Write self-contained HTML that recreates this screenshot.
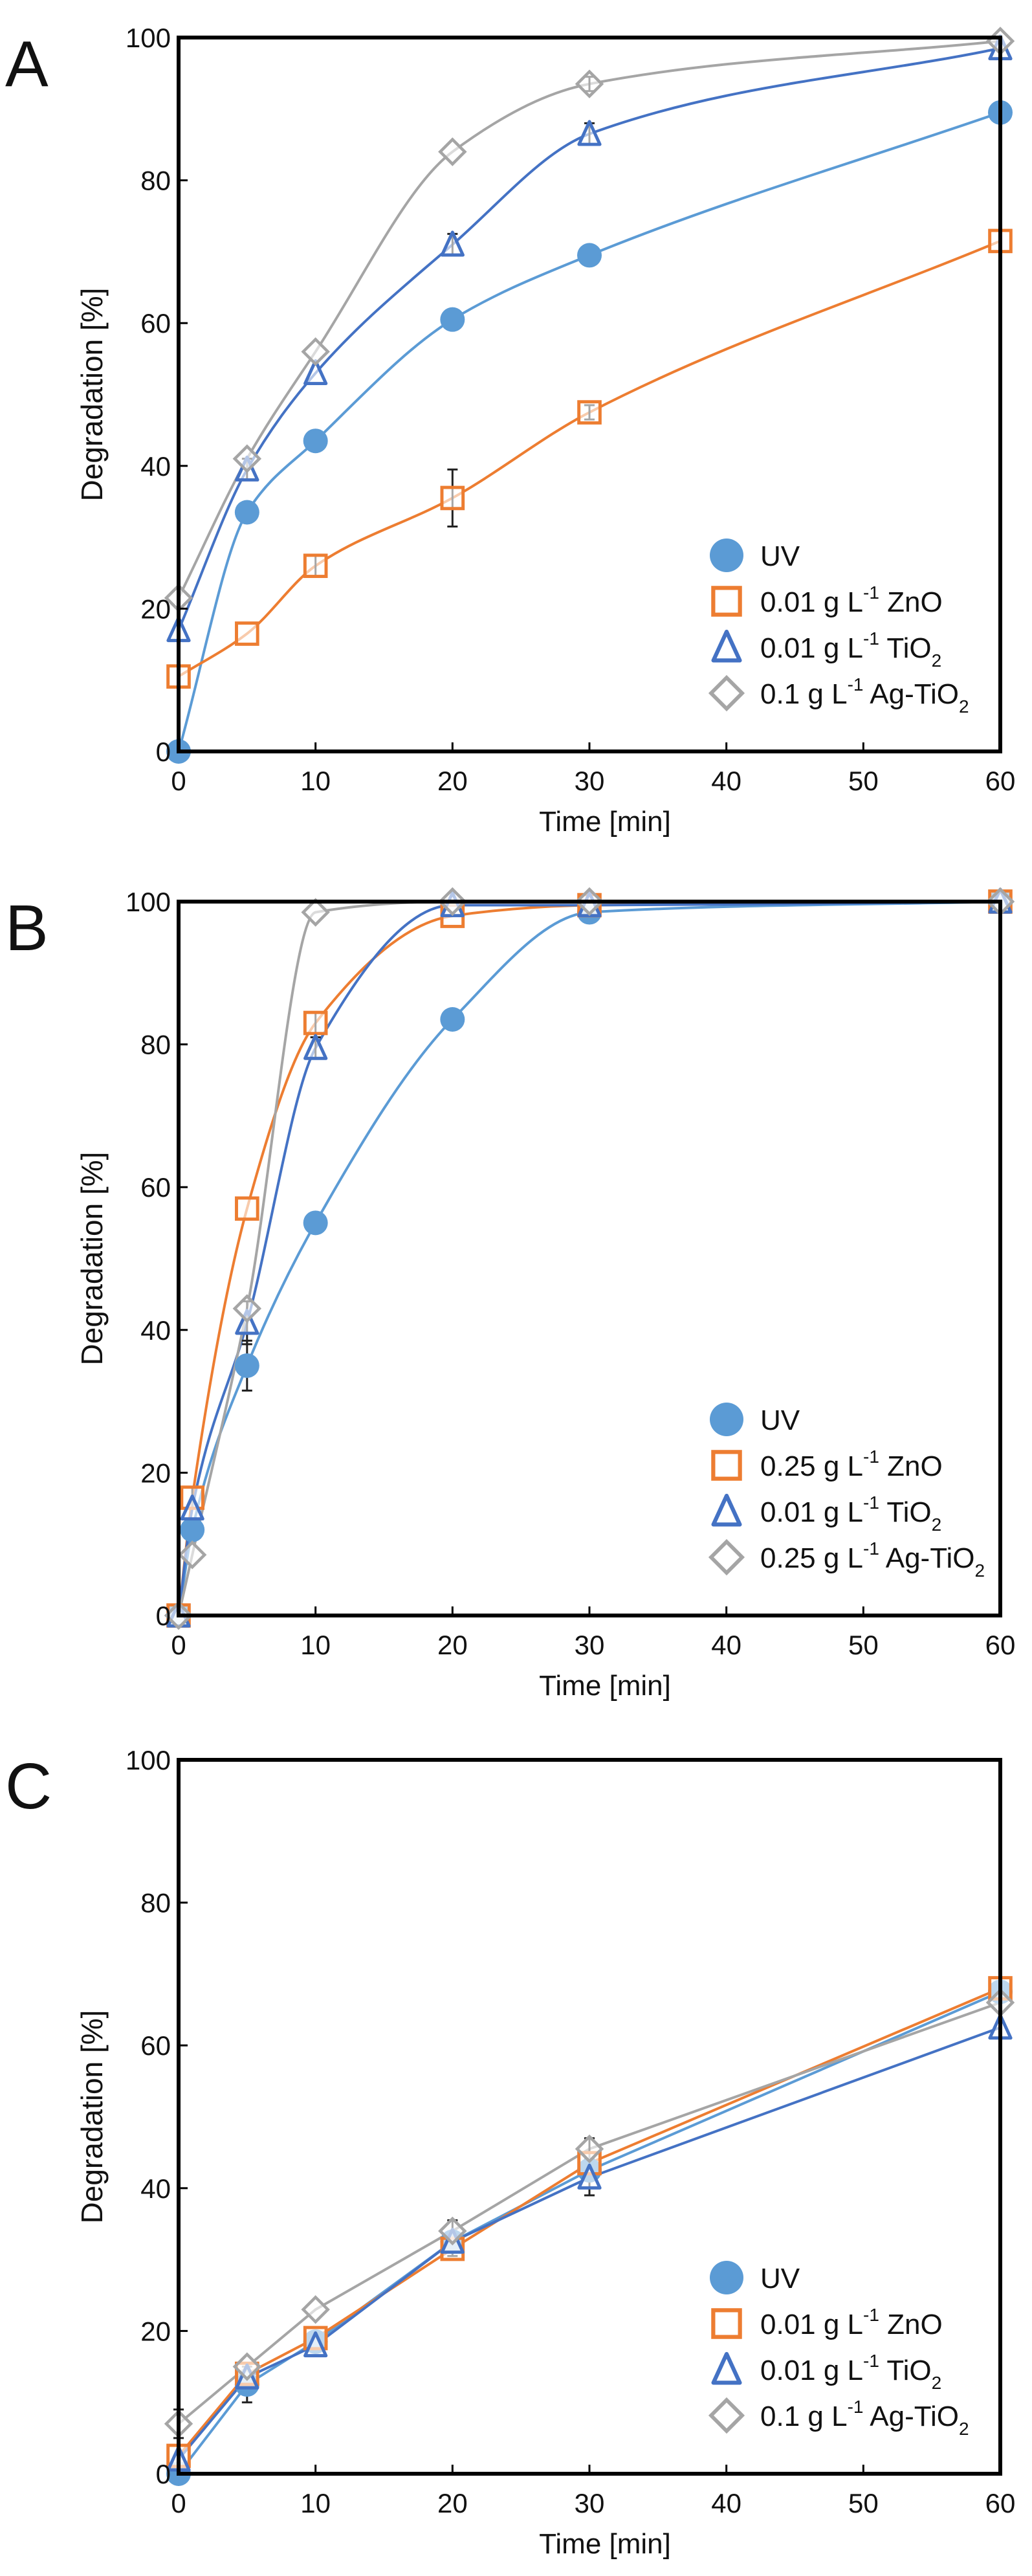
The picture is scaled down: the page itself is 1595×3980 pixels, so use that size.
<!DOCTYPE html>
<html><head><meta charset="utf-8"><style>
html,body{margin:0;padding:0;background:#fff;}
svg{display:block;}
text{font-family:"Liberation Sans",sans-serif;fill:#111;}
</style></head><body>
<svg id="s" width="1595" height="3980" xmlns="http://www.w3.org/2000/svg"></svg>
<script>
const C={uv:"#5B9BD5",zn:"#ED7D31",ti:"#4472C4",ag:"#A5A5A5"};
const L=276,R=1546,H=1103;
const panels=[
 {top:58,letter:"A",xs:[0,5,10,20,30,60],smooth:true,
  d:{uv:[0,33.5,43.5,60.5,69.5,89.5],zn:[10.5,16.5,26,35.5,47.5,71.5],ti:[17,39.5,53,71,86.5,98.5],ag:[21.5,41,56,84,93.5,99.5]},
  err:[[20,35.5,4],[10,26,1.5],[30,47.5,1],[20,71,1.5],[30,86.5,1.5],[30,93.5,1],[5,39.5,1.5],[0,10.5,1.5]],
  leg:["UV","0.01 g L","0.01 g L","0.1 g L"],tail:[""," ZnO"," TiO"," Ag-TiO"]},
 {top:1393,letter:"B",xs:[0,1,5,10,20,30,60],smooth:true,
  d:{uv:[0,12,35,55,83.5,98.5,100],zn:[0,16.5,57,83,98,99.5,100],ti:[0,15,41,79.5,99.5,99.5,100],ag:[0,8.5,43,98.5,100,100,100]},
  err:[[5,35,3.5],[5,41,3],[10,83,1.5],[10,79.5,1.5],[1,16.5,1.5]],
  leg:["UV","0.25 g L","0.01 g L","0.25 g L"],tail:[""," ZnO"," TiO"," Ag-TiO"]},
 {top:2719,letter:"C",xs:[0,5,10,20,30,60],smooth:false,
  d:{uv:[0,12.5,18.5,32.5,42.5,67.5],zn:[2.5,14,19,31.5,43.5,68],ti:[2,13.5,18,32.5,41.5,62.5],ag:[7,15,23,34,45.5,66]},
  err:[[5,12.5,2.5],[20,33,2.5],[30,41.5,2.5],[0,7,2],[30,45.5,1.5]],
  leg:["UV","0.01 g L","0.01 g L","0.1 g L"],tail:[""," ZnO"," TiO"," Ag-TiO"]}
];
let out="";
function monoPath(xs,ys,X,Y,smooth){
 const n=xs.length;
 let s="M"+X(xs[0]).toFixed(1)+","+Y(ys[0]).toFixed(1);
 if(!smooth){for(let i=1;i<n;i++)s+=" L"+X(xs[i]).toFixed(1)+","+Y(ys[i]).toFixed(1);return s;}
 const h=[],d=[];for(let i=0;i<n-1;i++){h.push(xs[i+1]-xs[i]);d.push((ys[i+1]-ys[i])/h[i]);}
 const m=new Array(n);
 m[0]=d[0];m[n-1]=d[n-2];
 for(let i=1;i<n-1;i++){
  if(d[i-1]*d[i]<=0)m[i]=0;
  else{const w1=2*h[i]+h[i-1],w2=h[i]+2*h[i-1];m[i]=(w1+w2)/(w1/d[i-1]+w2/d[i]);}
 }
 for(let i=0;i<n-1;i++){
  const x1=xs[i]+h[i]/3,y1=ys[i]+m[i]*h[i]/3,x2=xs[i+1]-h[i]/3,y2=ys[i+1]-m[i+1]*h[i]/3;
  s+=` C${X(x1).toFixed(1)},${Y(y1).toFixed(1)} ${X(x2).toFixed(1)},${Y(y2).toFixed(1)} ${X(xs[i+1]).toFixed(1)},${Y(ys[i+1]).toFixed(1)}`;
 }
 return s;
}
function marker(k,x,y,sz){
 if(k=="uv")return `<circle cx="${x}" cy="${y}" r="${sz*0.5}" fill="${C.uv}"/>`;
 if(k=="zn")return `<rect x="${x-sz*0.43}" y="${y-sz*0.43}" width="${sz*0.86}" height="${sz*0.86}" fill="#fff" fill-opacity="0.6" stroke="${C.zn}" stroke-width="${sz*0.13}"/>`;
 if(k=="ti"){const h=sz*0.5;return `<polygon points="${x},${y-h} ${x+h*0.85},${y+h*0.85} ${x-h*0.85},${y+h*0.85}" fill="#fff" fill-opacity="0.6" stroke="${C.ti}" stroke-width="${sz*0.13}" stroke-linejoin="round"/>`;}
 const h=sz*0.5;return `<polygon points="${x},${y-h} ${x+h},${y} ${x},${y+h} ${x-h},${y}" fill="#fff" fill-opacity="0.6" stroke="${C.ag}" stroke-width="${sz*0.12}"/>`;
}
for(const p of panels){
 const T=p.top,B=T+H;
 const X=v=>L+(R-L)*v/60, Y=v=>B-H*v/100;
 out+=`<text x="8" y="${T+75}" font-size="100">${p.letter}</text>`;
 for(const k of ["uv","zn","ti","ag"]){
  out+=`<path d="${monoPath(p.xs,p.d[k],X,Y,p.smooth)}" fill="none" stroke="${C[k]}" stroke-width="4"/>`;
 }
 for(const e of p.err){const x=X(e[0]);out+=`<path d="M${x},${Y(e[1]-e[2])}V${Y(e[1]+e[2])}M${x-8},${Y(e[1]-e[2])}h16M${x-8},${Y(e[1]+e[2])}h16" stroke="#222" stroke-width="3" fill="none"/>`;}
 for(const k of ["uv","zn","ti","ag"]){
  p.xs.forEach((x,i)=>{out+=marker(k,X(x),Y(p.d[k][i]),38);});
 }
 out+=`<rect x="${L}" y="${T}" width="${R-L}" height="${H}" fill="none" stroke="#000" stroke-width="6"/>`;
 for(let v=10;v<60;v+=10)out+=`<line x1="${X(v)}" x2="${X(v)}" y1="${B}" y2="${B-14}" stroke="#000" stroke-width="3"/>`;
 for(let v=20;v<100;v+=20)out+=`<line x1="${L}" x2="${L+14}" y1="${Y(v)}" y2="${Y(v)}" stroke="#000" stroke-width="3"/>`;
 for(let v=0;v<=60;v+=10)out+=`<text x="${X(v)}" y="${B+60}" font-size="42" text-anchor="middle">${v}</text>`;
 for(let v=0;v<=100;v+=20)out+=`<text x="${L-12}" y="${Y(v)+15}" font-size="42" text-anchor="end">${v}</text>`;
 out+=`<text x="935" y="${B+123}" font-size="44" text-anchor="middle">Time [min]</text>`;
 out+=`<text transform="translate(158,${T+H/2}) rotate(-90)" font-size="46" text-anchor="middle">Degradation [%]</text>`;
 const ks=["uv","zn","ti","ag"];
 ks.forEach((k,i)=>{
  const y=T+800+i*71;
  out+=marker(k,1123,y,k=="uv"?52:48);
  let t=`<text x="1175" y="${y+16}" font-size="44">${p.leg[i]}`;
  if(i>0){t+=`<tspan font-size="28" dy="-20">-1</tspan><tspan dy="20">${p.tail[i]}</tspan>`;if(i>=2)t+=`<tspan font-size="28" dy="14">2</tspan>`;}
  t+=`</text>`;out+=t;
 });
}
document.getElementById("s").innerHTML=out;
</script>
</body></html>
